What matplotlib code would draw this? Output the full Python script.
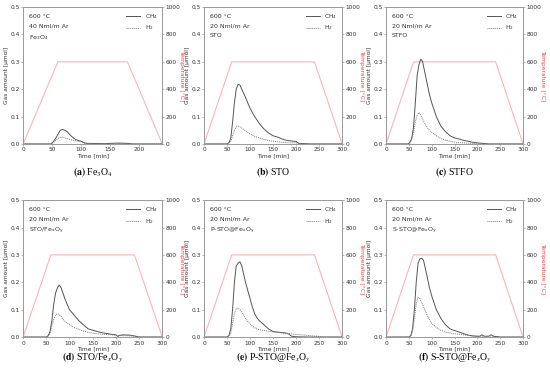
import numpy as np
import matplotlib.pyplot as plt

plt.rcParams['font.family'] = ['DejaVu Sans']
plt.rcParams['mathtext.fontset'] = 'stix'

# ==========================================
# DATA
# ==========================================
titles = [r"Fe$_\mathregular{3}$O$_\mathregular{4}$", "STO", "STFO",
          r"STO/Fe$_\mathregular{x}$O$_\mathregular{y}$",
          r"P-STO@Fe$_\mathregular{x}$O$_\mathregular{y}$",
          r"S-STO@Fe$_\mathregular{x}$O$_\mathregular{y}$"]
captions = ["(a)", "(b)", "(c)", "(d)", "(e)", "(f)"]
flows = ["40 Nml/m Ar", "20 Nml/m Ar", "20 Nml/m Ar", "20 Nml/m Ar", "20 Nml/m Ar", "20 Nml/m Ar"]
cap_names = ["Fe$_3$O$_4$", "STO", "STFO", "STO/Fe$_x$O$_y$", "P-STO@Fe$_x$O$_y$", "S-STO@Fe$_x$O$_y$"]
xmax = [240, 300, 300, 300, 300, 300]

# temperature programme
t_temp_a = [0, 60, 180, 240]
t_temp = [0, 60, 240, 300]
temp = [0, 600, 600, 0]

# (a) Fe3O4
t_a = [0, 48, 52, 56, 60, 64, 68, 72, 76, 80, 85, 90, 95, 100, 105, 110, 120, 140, 160, 170, 180, 190, 240]
ch4_a = [0, 0, 0.008, 0.02, 0.035, 0.05, 0.053, 0.05, 0.045, 0.035, 0.025, 0.017, 0.013, 0.01, 0.005, 0.002, 0.002, 0.001, 0.003, 0.003, 0.002, 0, 0]
h2_a = [0, 0, 0.005, 0.012, 0.02, 0.025, 0.025, 0.022, 0.02, 0.017, 0.014, 0.012, 0.01, 0.008, 0.003, 0.002, 0.001, 0.001, 0.001, 0.002, 0.001, 0, 0]

# (b) STO
t_b = [0, 50, 54, 58, 62, 66, 70, 74, 78, 82, 86, 90, 95, 100, 110, 120, 130, 140, 150, 160, 170, 180, 190, 200, 205, 210, 230, 300]
ch4_b = [0, 0, 0.005, 0.02, 0.08, 0.15, 0.2, 0.218, 0.215, 0.2, 0.185, 0.17, 0.15, 0.13, 0.1, 0.075, 0.055, 0.04, 0.03, 0.025, 0.018, 0.013, 0.011, 0.009, 0.003, 0.002, 0, 0]
h2_b = [0, 0, 0.003, 0.01, 0.03, 0.05, 0.062, 0.065, 0.063, 0.058, 0.053, 0.048, 0.042, 0.036, 0.028, 0.022, 0.017, 0.013, 0.01, 0.008, 0.006, 0.005, 0.004, 0.004, 0.002, 0.001, 0, 0]

# (c) STFO
t_c = [0, 48, 52, 56, 60, 64, 68, 72, 76, 80, 85, 90, 95, 100, 110, 120, 130, 140, 150, 160, 170, 180, 190, 200, 225, 300]
ch4_c = [0, 0, 0.005, 0.02, 0.06, 0.15, 0.25, 0.29, 0.31, 0.3, 0.26, 0.22, 0.18, 0.15, 0.1, 0.065, 0.045, 0.03, 0.022, 0.018, 0.013, 0.01, 0.006, 0.004, 0, 0]
h2_c = [0, 0, 0.003, 0.015, 0.04, 0.08, 0.105, 0.115, 0.105, 0.09, 0.075, 0.06, 0.05, 0.042, 0.03, 0.02, 0.014, 0.01, 0.007, 0.005, 0.004, 0.003, 0.002, 0.001, 0, 0]

# (d) STO/FexOy
t_d = [0, 50, 54, 58, 62, 66, 70, 74, 78, 82, 86, 90, 95, 100, 110, 120, 130, 140, 150, 160, 170, 180, 190, 200, 204, 208, 215, 230, 240, 250, 300]
ch4_d = [0, 0, 0.005, 0.02, 0.06, 0.12, 0.16, 0.18, 0.19, 0.18, 0.16, 0.14, 0.12, 0.1, 0.08, 0.06, 0.045, 0.03, 0.025, 0.02, 0.016, 0.013, 0.01, 0.008, 0.002, 0.006, 0.008, 0.007, 0.004, 0, 0]
h2_d = [0, 0, 0.003, 0.012, 0.04, 0.065, 0.08, 0.085, 0.082, 0.075, 0.065, 0.058, 0.05, 0.045, 0.035, 0.028, 0.022, 0.017, 0.014, 0.012, 0.01, 0.009, 0.008, 0.007, 0.005, 0.005, 0.005, 0.004, 0.003, 0.001, 0]

# (e) P-STO@FexOy
t_e = [0, 50, 54, 58, 62, 66, 70, 74, 78, 82, 86, 90, 95, 100, 105, 110, 115, 120, 130, 140, 150, 160, 170, 180, 185, 190, 200, 225, 250, 260, 300]
ch4_e = [0, 0, 0.005, 0.03, 0.1, 0.2, 0.26, 0.27, 0.275, 0.26, 0.23, 0.2, 0.17, 0.14, 0.11, 0.085, 0.07, 0.06, 0.045, 0.03, 0.02, 0.018, 0.016, 0.014, 0.01, 0.003, 0.001, 0, 0, 0, 0]
h2_e = [0, 0, 0.003, 0.015, 0.05, 0.085, 0.105, 0.105, 0.1, 0.09, 0.08, 0.068, 0.057, 0.048, 0.04, 0.034, 0.03, 0.027, 0.024, 0.021, 0.019, 0.017, 0.015, 0.013, 0.012, 0.011, 0.01, 0.006, 0.002, 0, 0]

# (f) S-STO@FexOy
t_f = [0, 50, 54, 58, 62, 66, 70, 74, 78, 82, 86, 90, 95, 100, 110, 120, 130, 140, 145, 150, 160, 170, 180, 190, 200, 205, 210, 215, 225, 230, 235, 250, 300]
ch4_f = [0, 0, 0.005, 0.03, 0.1, 0.2, 0.27, 0.285, 0.288, 0.28, 0.25, 0.22, 0.18, 0.15, 0.1, 0.068, 0.045, 0.03, 0.026, 0.024, 0.018, 0.012, 0.007, 0.004, 0.003, 0.003, 0.008, 0.003, 0.003, 0.008, 0.003, 0, 0]
h2_f = [0, 0, 0.003, 0.02, 0.07, 0.12, 0.145, 0.14, 0.125, 0.11, 0.095, 0.08, 0.065, 0.05, 0.035, 0.025, 0.018, 0.015, 0.013, 0.012, 0.01, 0.008, 0.006, 0.004, 0.002, 0.001, 0.001, 0, 0, 0, 0, 0, 0]

times = [t_a, t_b, t_c, t_d, t_e, t_f]
ch4s = [ch4_a, ch4_b, ch4_c, ch4_d, ch4_e, ch4_f]
h2s = [h2_a, h2_b, h2_c, h2_d, h2_e, h2_f]

# ==========================================
# FIGURE
# ==========================================
fig = plt.figure(figsize=(5.5, 3.72), dpi=100)

lefts = [0.042, 0.371, 0.702]
widths = [0.253, 0.251, 0.249]
bottoms = [0.613, 0.094]
height = 0.368
cap_y = [0.528, 0.03]

fs = 4.2
spine_c = "#999999"
txt_c = "#333333"

for i in range(6):
    r, c = divmod(i, 3)
    ax = fig.add_axes([lefts[c], bottoms[r], widths[c], height])
    ax2 = ax.twinx()

    tt = t_temp_a if i == 0 else t_temp
    ax2.plot(tt, temp, color="#ffb3b3", lw=0.8)
    ax2.set_ylim(0, 1000)
    ax2.set_yticks(np.arange(0, 1001, 200))
    ax2.set_ylabel("Temperature [°C]", color="#ff4040", fontsize=fs, rotation=270, va="center")
    ax2.yaxis.set_label_coords(1.14, 0.5)

    ax.plot(times[i], ch4s[i], color="#555555", lw=0.7, label=r"CH$_\mathregular{4}$")
    ax.plot(times[i], h2s[i], color="#777777", lw=0.7, ls=(0, (1, 1)), label=r"H$_\mathregular{2}$")
    ax.set_zorder(ax2.get_zorder() + 1)
    ax.patch.set_visible(False)

    ax.set_xlim(0, xmax[i])
    ax.set_ylim(0, 0.5)
    ax.set_xticks(np.arange(0, xmax[i] + 1, 50))
    ax.set_yticks(np.arange(0, 0.51, 0.1))
    ax.set_ylabel("Gas amount [µmol]", fontsize=fs, color=txt_c, va="center")
    ax.yaxis.set_label_coords(-0.12, 0.5)
    ax.set_xlabel("Time [min]", fontsize=fs, color=txt_c, labelpad=0.5)

    for a in (ax, ax2):
        a.tick_params(labelsize=fs, length=1.5, width=0.5, pad=1, colors=spine_c, labelcolor=txt_c)
        for s in a.spines.values():
            s.set_color(spine_c)
            s.set_linewidth(0.6)

    ax.text(0.04, 0.95, "600 °C", transform=ax.transAxes, fontsize=fs + 0.3, color=txt_c, va="top")
    ax.text(0.04, 0.88, flows[i], transform=ax.transAxes, fontsize=fs + 0.3, color=txt_c, va="top")
    ax.text(0.04, 0.81, titles[i], transform=ax.transAxes, fontsize=fs + 0.3, color=txt_c, va="top")

    leg = ax.legend(loc="upper right", fontsize=fs, frameon=False, handlelength=2.4,
                    borderaxespad=0.4, labelspacing=0.5)
    for t in leg.get_texts():
        t.set_color(txt_c)

    xc = lefts[c] + widths[c] / 2
    fig.text(xc, cap_y[r], r"$\mathbf{" + captions[i] + "}$ " + cap_names[i], ha="center",
             fontsize=7, family=["Liberation Serif", "DejaVu Serif"])

fig.savefig("out.png", dpi=100)
